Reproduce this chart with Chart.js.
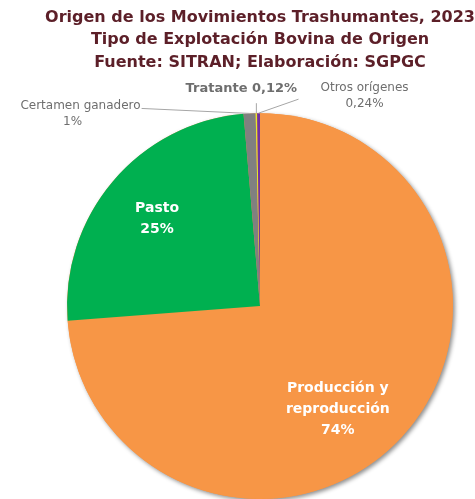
<!DOCTYPE html>
<html><head><meta charset="utf-8">
<script src="https://cdn.jsdelivr.net/npm/chart.js@4"></script>
<style>html,body{margin:0;padding:0;background:#fff;}#wrap{width:475px;height:499px;}</style>
</head><body><div id="wrap"><canvas id="c" width="475" height="499"></canvas></div>
<script>
const categories = ['Producción y reproducción', 'Pasto', 'Certamen ganadero', 'Tratante', 'Otros orígenes'];
const values = [73.78, 24.86, 1.0, 0.12, 0.24];
const valueLabels = ['74%', '25%', '1%', '0,12%', '0,24%'];
const colors = ['#F79646', '#00B050', '#808080', '#E8E82A', '#7030A0'];
const titleLines = ['Origen de los Movimientos Trashumantes, 2023', 'Tipo de Explotación Bovina de Origen', 'Fuente: SITRAN; Elaboración: SGPGC'];

const FONT = '"DejaVu Sans", sans-serif';

const shadowPlugin = {
  id: 'pieShadow',
  beforeDatasetsDraw(chart) {
    const arc = chart.getDatasetMeta(0).data[0];
    if (!arc) return;
    const ctx = chart.ctx;
    ctx.save();
    ctx.shadowColor = 'rgba(0,0,0,0.45)';
    ctx.shadowBlur = 4;
    ctx.shadowOffsetX = 2;
    ctx.shadowOffsetY = 2;
    ctx.fillStyle = '#F79646';
    ctx.beginPath();
    ctx.arc(arc.x, arc.y, arc.outerRadius, 0, Math.PI * 2);
    ctx.fill();
    ctx.restore();
  }
};

const labelPlugin = {
  id: 'sliceLabels',
  afterDatasetsDraw(chart, args, opts) {
    const ctx = chart.ctx;
    const meta = chart.getDatasetMeta(0);
    ctx.save();
    ctx.textAlign = 'center';
    ctx.textBaseline = 'middle';
    opts.items.forEach(it => {
      const arc = meta.data[it.index];
      const mid = (arc.startAngle + arc.endAngle) / 2;
      const r = arc.outerRadius;
      if (it.inside) {
        const x = arc.x + Math.cos(mid) * r * it.frac + it.dx;
        const y = arc.y + Math.sin(mid) * r * it.frac + it.dy;
        ctx.fillStyle = '#ffffff';
        ctx.font = 'bold 14px ' + FONT;
        const lines = it.lines;
        lines.forEach((t, i) => ctx.fillText(t, x, y + (i - (lines.length - 1) / 2) * it.lh));
      } else {
        const ex = arc.x + Math.cos(mid) * r;
        const ey = arc.y + Math.sin(mid) * r;
        // leader line
        ctx.strokeStyle = '#A6A6A6';
        ctx.lineWidth = 1;
        ctx.beginPath();
        ctx.moveTo(ex, ey);
        ctx.lineTo(ex + it.lx, ey + it.ly);
        ctx.stroke();
        ctx.fillStyle = '#6E6E6E';
        ctx.font = it.font + ' ' + FONT;
        ctx.textAlign = it.align || 'center';
        it.lines.forEach((t, i) => ctx.fillText(t, ex + it.tx, ey + it.ty + i * it.lh));
        ctx.textAlign = 'center';
      }
    });
    ctx.restore();
  }
};

new Chart(document.getElementById('c'), {
  type: 'pie',
  data: {
    labels: categories,
    datasets: [{ data: values, backgroundColor: colors, borderWidth: 0 }]
  },
  options: {
    responsive: false,
    animation: false,
    layout: { padding: { left: 45, right: 0, top: 0, bottom: 0 } },
    plugins: {
      legend: { display: false },
      tooltip: { enabled: false },
      title: {
        display: true,
        text: titleLines,
        color: '#5C1F28',
        font: { family: FONT, size: 16, weight: 'bold', lineHeight: 1.42 },
        padding: { top: 6, bottom: 39 }
      },
      sliceLabels: {
        items: [
          { index: 0, inside: true, frac: 0.67, dx: -17, dy: 15, lh: 21, lines: ['Producción y', 'reproducción', valueLabels[0]] },
          { index: 1, inside: true, frac: 0.70, dx: 0, dy: 0, lh: 21, lines: ['Pasto', valueLabels[1]] },
          { index: 2, inside: false, lx: -108, ly: -5, tx: -109, ty: -8, lh: 16, font: '12px', align: 'right', lines: [categories[2]] },
          { index: 2, inside: false, lx: 0, ly: 0, tx: -177, ty: 8, lh: 16, font: '12px', align: 'center', lines: [valueLabels[2]] },
          { index: 3, inside: false, lx: 0, ly: -10, tx: -15, ty: -25, lh: 16, font: 'bold 13px', lines: ['Tratante ' + valueLabels[3]] },
          { index: 4, inside: false, lx: 40, ly: -14, tx: 106, ty: -25, lh: 16, font: '12px', lines: ['Otros orígenes', valueLabels[4]] }
        ]
      }
    }
  },
  plugins: [shadowPlugin, labelPlugin]
});
</script>
</body></html>
